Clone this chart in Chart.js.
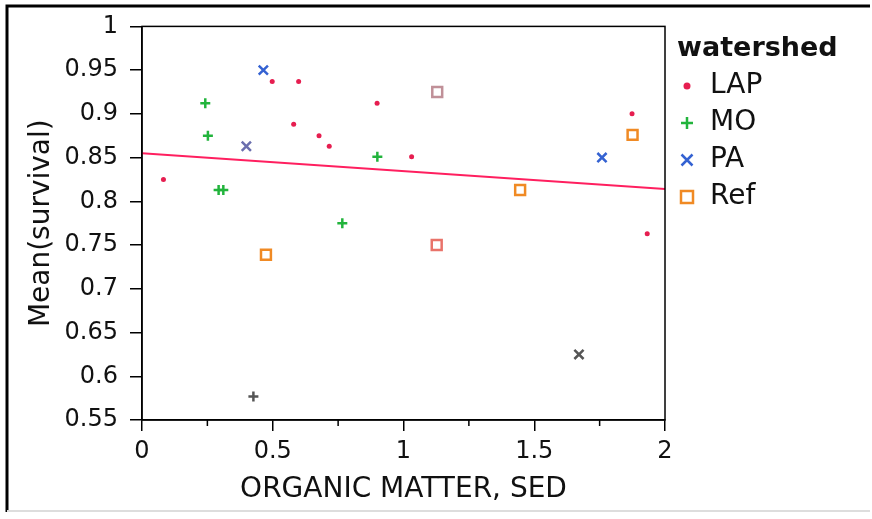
<!DOCTYPE html>
<html>
<head>
<meta charset="utf-8">
<script src="https://cdn.jsdelivr.net/npm/chart.js@4.4.1/dist/chart.umd.min.js"></script>
<style>
  html, body { margin: 0; padding: 0; background: #fff; }
</style>
</head>
<body>
<canvas id="scatter-chart" width="872" height="519"></canvas>
<script>
// values
var lapX = [0.082, 0.498, 0.599, 0.580, 0.677, 0.716, 0.899, 1.031, 1.874, 1.932];
var lapY = [0.825, 0.937, 0.937, 0.888, 0.875, 0.863, 0.912, 0.851, 0.900, 0.763];
var moX = [0.242, 0.252, 0.293, 0.311, 0.426, 0.766, 0.900];
var moY = [0.912, 0.875, 0.813, 0.813, 0.577, 0.775, 0.851];
var paX = [0.399, 0.464, 1.671, 1.759];
var paY = [0.863, 0.950, 0.625, 0.850];
var refX = [0.474, 1.127, 1.129, 1.446, 1.876];
var refY = [0.739, 0.750, 0.925, 0.813, 0.876];
var fitX = [0, 2];
var fitY = [0.855, 0.814];
var seriesNames = ["LAP", "MO", "PA", "Ref"];

var FONT = "'DejaVu Sans', sans-serif";

var toPoints = function(xs, ys) {
  return xs.map(function(x, i) { return { x: x, y: ys[i] }; });
};

// a few markers are drawn greyed out in the original
var moColors = ["#22b43c", "#22b43c", "#22b43c", "#22b43c", "#555555", "#22b43c", "#22b43c"];
var paColors = ["#6b6fae", "#3462d2", "#555555", "#3462d2"];
var refColors = ["#f08a24", "#e9736a", "#c09098", "#f08a24", "#f08a24"];

var framePlugin = {
  id: "frame",
  beforeDraw: function(chart) {
    var ctx = chart.ctx;
    ctx.save();
    ctx.fillStyle = "#ffffff";
    ctx.fillRect(0, 0, chart.width, chart.height);
    ctx.restore();
  },
  afterDraw: function(chart) {
    var ctx = chart.ctx;
    var a = chart.chartArea;
    ctx.save();
    // outer border
    ctx.strokeStyle = "#000";
    ctx.lineWidth = 3;
    ctx.beginPath();
    ctx.moveTo(7, 512);
    ctx.lineTo(7, 6);
    ctx.lineTo(870, 6);
    ctx.stroke();
    ctx.strokeStyle = "#dddddd";
    ctx.lineWidth = 2;
    ctx.beginPath();
    ctx.moveTo(7, 511);
    ctx.lineTo(870, 511);
    ctx.stroke();
    // plot frame
    ctx.strokeStyle = "#000";
    ctx.lineWidth = 1.5;
    ctx.strokeRect(a.left, a.top, a.right - a.left, a.bottom - a.top);
    // minor ticks on x
    var xs = chart.scales.x;
    ctx.beginPath();
    for (var v = 0.25; v < 2; v += 0.5) {
      var px = xs.getPixelForValue(v);
      ctx.moveTo(px, a.bottom);
      ctx.lineTo(px, a.bottom + 6);
    }
    ctx.stroke();
    ctx.restore();
  }
};

var drawMarker = function(ctx, style, x, y, r, color) {
  ctx.strokeStyle = color;
  ctx.fillStyle = color;
  ctx.lineWidth = 2.5;
  ctx.beginPath();
  if (style === "circle") {
    ctx.arc(x, y, r, 0, Math.PI * 2);
    ctx.fill();
    return;
  }
  if (style === "cross") {
    ctx.moveTo(x - r, y); ctx.lineTo(x + r, y);
    ctx.moveTo(x, y - r); ctx.lineTo(x, y + r);
  } else if (style === "crossRot") {
    ctx.moveTo(x - r, y - r); ctx.lineTo(x + r, y + r);
    ctx.moveTo(x - r, y + r); ctx.lineTo(x + r, y - r);
  } else {
    ctx.rect(x - r, y - r, r * 2, r * 2);
  }
  ctx.stroke();
};

var legendPlugin = {
  id: "sideLegend",
  afterDraw: function(chart) {
    var ctx = chart.ctx;
    var left = chart.chartArea.right + 12;
    ctx.save();
    ctx.fillStyle = "#111";
    ctx.textBaseline = "alphabetic";
    ctx.textAlign = "left";
    ctx.font = "bold 27px " + FONT;
    ctx.fillText("watershed", left, 56);
    ctx.font = "28px " + FONT;
    var sizes = [3.5, 6, 5.5, 6];
    chart.data.datasets.forEach(function(ds, i) {
      if (i >= seriesNames.length) return;
      var cy = 86 + i * 37;
      drawMarker(ctx, ds.pointStyle, left + 10, cy, sizes[i], ds.legendColor);
      ctx.fillStyle = "#111";
      ctx.textBaseline = "middle";
      ctx.fillText(ds.label, left + 33, cy);
    });
    ctx.restore();
  }
};

var config = {
  type: "scatter",
  data: {
    datasets: [
      {
        label: seriesNames[0],
        data: toPoints(lapX, lapY),
        pointStyle: "circle",
        pointRadius: 2.5,
        pointBackgroundColor: "#e61e50",
        pointBorderColor: "#e61e50",
        pointBorderWidth: 0,
        legendColor: "#e61e50"
      },
      {
        label: seriesNames[1],
        data: toPoints(moX, moY),
        pointStyle: "cross",
        pointRadius: 5,
        pointBorderColor: moColors,
        pointBorderWidth: 2.5,
        legendColor: "#22b43c"
      },
      {
        label: seriesNames[2],
        data: toPoints(paX, paY),
        pointStyle: "crossRot",
        pointRadius: 6.5,
        pointBorderColor: paColors,
        pointBorderWidth: 2.5,
        legendColor: "#3462d2"
      },
      {
        label: seriesNames[3],
        data: toPoints(refX, refY),
        pointStyle: "rect",
        pointRadius: 7,
        pointBackgroundColor: "#ffffff",
        pointBorderColor: refColors,
        pointBorderWidth: 2.5,
        legendColor: "#f08a24"
      },
      {
        label: "fit",
        type: "line",
        data: toPoints(fitX, fitY),
        showLine: true,
        borderColor: "#ff1f5f",
        borderWidth: 2,
        pointRadius: 0,
        fill: false
      }
    ]
  },
  options: {
    responsive: false,
    animation: false,
    devicePixelRatio: 1,
    events: [],
    layout: {
      padding: { left: 0, top: 24, right: 207, bottom: 0 }
    },
    scales: {
      x: {
        type: "linear",
        position: "bottom",
        min: 0,
        max: 2,
        ticks: {
          stepSize: 0.5,
          maxRotation: 0,
          padding: 6,
          color: "#111",
          font: { family: FONT, size: 24 },
          callback: function(v) { return String(+v.toFixed(2)); }
        },
        grid: { drawOnChartArea: false, drawTicks: true, tickLength: 11, color: "#000", lineWidth: 1.5 },
        border: { display: true, color: "#000", width: 1.5 },
        title: {
          display: true,
          text: "ORGANIC MATTER, SED",
          color: "#111",
          font: { family: FONT, size: 28 },
          padding: { top: 0, bottom: 12 }
        },
        afterFit: function(scale) { scale.height = 99; }
      },
      y: {
        type: "linear",
        min: 0.55,
        max: 1,
        ticks: {
          stepSize: 0.05,
          padding: 12,
          color: "#111",
          font: { family: FONT, size: 24 },
          callback: function(v) { return String(+v.toFixed(2)); }
        },
        grid: { drawOnChartArea: false, drawTicks: true, tickLength: 12, color: "#000", lineWidth: 1.5 },
        border: { display: true, color: "#000", width: 1.5 },
        title: {
          display: true,
          text: "Mean(survival)",
          color: "#111",
          font: { family: FONT, size: 28 },
          padding: { top: 25, bottom: 0 }
        },
        afterFit: function(scale) { scale.width = 142; }
      }
    },
    plugins: {
      legend: { display: false },
      tooltip: { enabled: false }
    }
  },
  plugins: [framePlugin, legendPlugin]
};

window.onload = function() {
  var ctx = document.getElementById("scatter-chart").getContext("2d");
  window.myScatter = new Chart(ctx, config);
};
</script>
</body>
</html>
